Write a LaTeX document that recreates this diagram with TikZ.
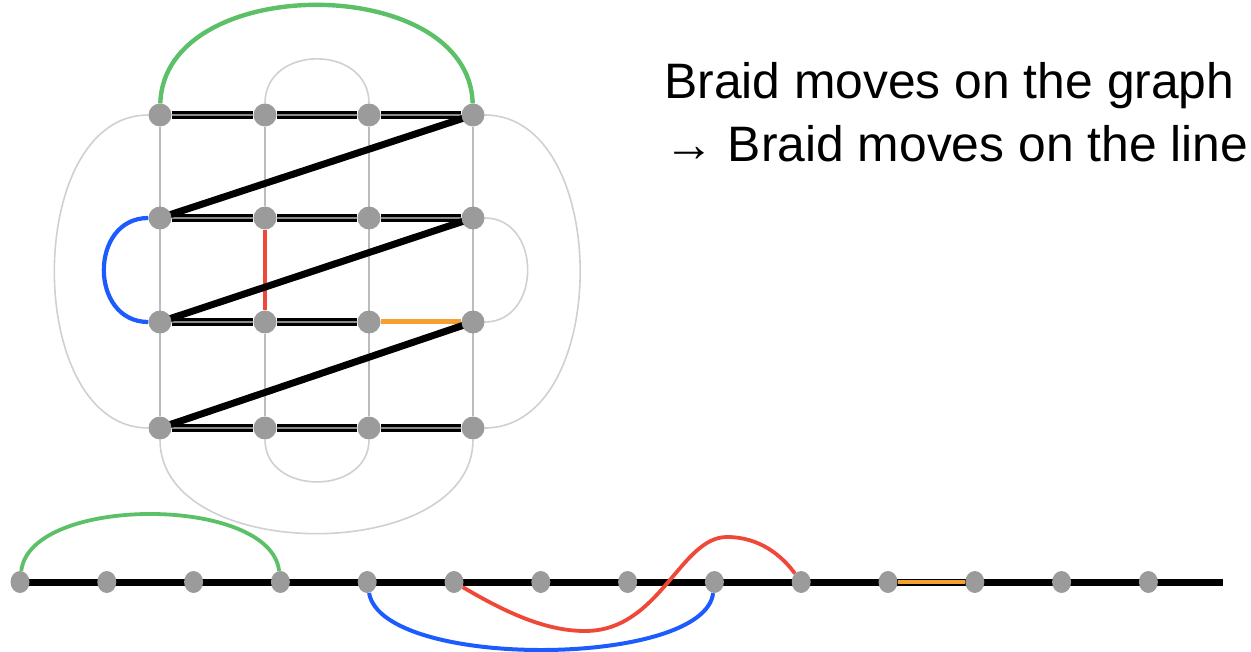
\documentclass[tikz,border=0pt]{standalone}
\usepackage{fontspec}
\setmainfont{Liberation Sans}
\usetikzlibrary{backgrounds,shapes.geometric}

\definecolor{arcgreen}{RGB}{92,192,104}
\definecolor{arcblue}{RGB}{28,92,255}
\definecolor{arcred}{RGB}{240,72,56}
\definecolor{arcorange}{RGB}{246,160,48}
\definecolor{faint}{RGB}{208,208,208}
\definecolor{colgray}{RGB}{188,188,192}
\definecolor{dotgray}{RGB}{155,155,155}

\begin{document}
\begin{tikzpicture}[x=1pt,y=-1pt,
    vtx/.style={circle,fill=dotgray,inner sep=0,minimum size=23pt},
    bead/.style={ellipse,fill=dotgray,inner sep=0,minimum width=19pt,minimum height=22pt},
    rung/.style={draw=black,line width=3pt,double=black!45,double distance=1.3pt},
    zig/.style={black,line width=7pt},
    col/.style={colgray,line width=1.8pt},
    loop/.style={faint,line width=1.6pt},
    track/.style={black,line width=7pt}]

\useasboundingbox (0,0) rectangle (1251,652);

% ===== Grid vertices =====
\foreach \r/\y in {1/115,2/218,3/322,4/428} {
    \foreach \c/\x in {1/160,2/265,3/369,4/473} {
        \node[vtx] (v\r\c) at (\x,\y) {};
    }
}

% ===== Vertices on the line =====
\foreach \i in {1,...,14} {
    \node[bead] (p\i) at ({20+86.8*(\i-1)},582) {};
}
\coordinate (tail) at (1223,582);

% ===== Text =====
\node[anchor=base west,inner sep=0,font=\fontsize{49.8}{60}\selectfont] (graphlabel) at (664,99) {Braid moves on the graph};
\node[anchor=base west,inner sep=0,font=\fontsize{49.8}{60}\selectfont] (linelabel) at (664,162) {→ Braid moves on the line};

\begin{scope}[on background layer]

% ===== Columns =====
\foreach \c in {1,3,4} {
    \draw[col] (v1\c) -- (v4\c);
}
\draw[col] (v12) -- (v22);
\draw[col] (v32) -- (v42);
\draw[arcred,line width=3.2pt] (v22) -- (v32);

% ===== Outer loops =====
\draw[loop] (v11) .. controls +(-137,0) and +(-137,0) .. (v41);
\draw[loop] (v14) .. controls +(139,0) and +(139,0) .. (v44);
\draw[loop] (v24) .. controls +(69,0) and +(69,0) .. (v34);
\draw[loop] (v12) .. controls +(0,-71) and +(0,-71) .. (v13);
\draw[loop] (v42) .. controls +(0,68) and +(0,68) .. (v43);
\draw[loop] (v41) .. controls +(0,137) and +(0,137) .. (v44);
\draw[arcgreen,line width=4.4pt] (v11) .. controls +(4,-143) and +(-4,-143) .. (v14);
\draw[arcblue,line width=4.2pt] (v21) .. controls +(-71,0) and +(-71,0) .. (v31);

% ===== Rows and zigzag =====
\foreach \r in {1,2,4} {
    \draw[rung] (v\r1) -- (v\r2) -- (v\r3) -- (v\r4);
}
\draw[rung] (v31) -- (v32) -- (v33);
\draw[arcorange,line width=5pt] (v33) -- (v34);
\draw[zig] (v14.center) -- (v21.center);
\draw[zig] (v24.center) -- (v31.center);
\draw[zig] (v34.center) -- (v41.center);

% ===== The line =====
\draw[track] (p1.center) -- (tail);
\draw[arcorange,line width=4.5pt] (p11) -- (p12);
\draw[arcgreen,line width=3.8pt] (p1) .. controls +(10,-87) and +(-10,-87) .. (p4);
\draw[arcblue,line width=4pt] (p5) .. controls +(15,88) and +(-10,86) .. (p9);
\draw[arcred,line width=3.8pt] (p6) .. controls (505,612) and (545,631) .. (585,631)
    .. controls (660,631) and (680,537) .. (727,537)
    .. controls (760,537) and (782,556) .. (p10);

\end{scope}

\end{tikzpicture}
\end{document}
